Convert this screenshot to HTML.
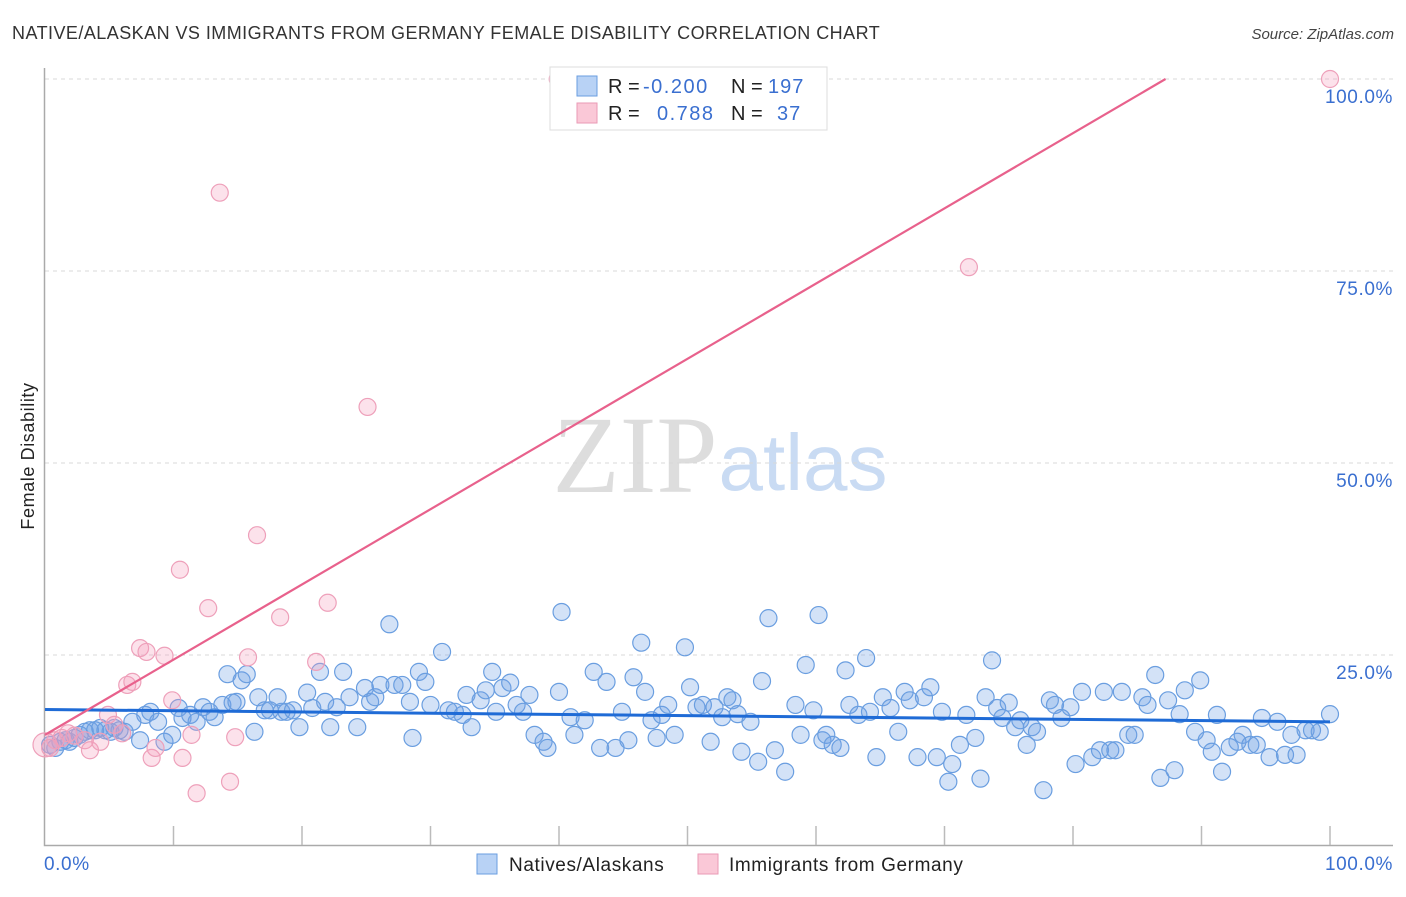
<!DOCTYPE html>
<html><head><meta charset="utf-8"><style>
body{margin:0;background:#fff;font-family:"Liberation Sans",sans-serif}
#c{position:relative;width:1406px;height:892px}
</style></head><body>
<div id="c">
<svg id="s" width="1406" height="892" xmlns="http://www.w3.org/2000/svg">
<text x="12" y="39" font-size="18" letter-spacing="0.45" fill="#333">NATIVE/ALASKAN VS IMMIGRANTS FROM GERMANY FEMALE DISABILITY CORRELATION CHART</text>
<text x="1394" y="39" font-size="15" fill="#444" font-style="italic" text-anchor="end">Source: ZipAtlas.com</text>
<text x="34" y="456" font-size="18" letter-spacing="0.6" fill="#222" text-anchor="middle" transform="rotate(-90 34 456)">Female Disability</text>
<text x="635" y="492" font-size="110" fill="#ddd" font-family="Liberation Serif,serif" text-anchor="middle">ZIP</text>
<text x="803" y="490" font-size="80" fill="#c9dbf3" text-anchor="middle">atlas</text>
<g id="grid"></g><g id="axes"></g><g id="pts"></g><g id="lines"></g>
<g>
<rect x="550" y="67" width="277" height="63" fill="#fff" stroke="#ddd"/>
<rect x="577" y="76" width="20" height="20" fill="#b8d2f5" stroke="#6a9ee0"/>
<rect x="577" y="103" width="20" height="20" fill="#fac8d7" stroke="#ea9ab5"/>
<text x="608" y="93" font-size="20" fill="#222">R = <tspan x="643" fill="#3a6fd0" letter-spacing="1.5">-0.200</tspan><tspan x="731">N = </tspan><tspan x="768" fill="#3a6fd0" letter-spacing="1">197</tspan></text>
<text x="608" y="120" font-size="20" fill="#222">R = <tspan x="657" fill="#3a6fd0" letter-spacing="1.5">0.788</tspan><tspan x="731">N = </tspan><tspan x="777" fill="#3a6fd0" letter-spacing="1">37</tspan></text>
</g>
<g>
<rect x="477" y="854" width="20" height="20" fill="#b8d2f5" stroke="#6a9ee0"/>
<text x="509" y="871" font-size="19" letter-spacing="0.6" fill="#222">Natives/Alaskans</text>
<rect x="698" y="854" width="20" height="20" fill="#fac8d7" stroke="#ea9ab5"/>
<text x="729" y="871" font-size="19" letter-spacing="0.6" fill="#222">Immigrants from Germany</text>
</g>
</svg></div>
<script>
const yTicks=[100,75,50,25];
const yTickLabels=["100.0%","75.0%","50.0%","25.0%"];
const xEndLabels=["0.0%","100.0%"];
const blueX=[0.4,0.8,1.2,1.6,1.9,2.3,2.7,3.1,3.5,3.9,4.3,4.7,5.1,5.4,5.8,6.2,6.8,7.4,7.8,8.2,8.8,9.3,9.9,10.4,10.7,11.3,11.8,12.3,12.8,13.2,13.8,14.2,14.6,14.9,15.3,15.7,16.3,16.6,17.1,17.5,18.1,18.4,18.8,19.3,19.8,20.4,20.8,21.4,21.8,22.2,22.7,23.2,23.7,24.3,24.9,25.3,25.7,26.1,26.8,27.2,27.8,28.4,28.6,29.1,29.6,30.0,30.9,31.4,31.9,32.5,32.8,33.2,33.9,34.3,34.8,35.1,35.6,36.2,36.7,37.2,37.7,38.1,38.8,39.1,40.0,40.2,40.9,41.2,42.0,42.7,43.2,43.7,44.4,44.9,45.4,45.8,46.4,46.7,47.2,47.6,48.0,48.5,49.0,49.8,50.2,50.7,51.2,51.8,52.1,52.7,53.1,53.5,53.9,54.2,54.9,55.5,55.8,56.3,56.8,57.6,58.4,58.8,59.2,59.8,60.2,60.5,60.8,61.3,61.9,62.3,62.6,63.3,63.9,64.2,64.7,65.2,65.8,66.4,66.9,67.3,67.9,68.4,68.9,69.4,69.8,70.3,70.6,71.2,71.7,72.4,72.8,73.2,73.7,74.1,74.5,75.0,75.5,75.9,76.4,76.8,77.2,77.7,78.2,78.6,79.1,79.8,80.2,80.7,81.5,82.1,82.4,82.9,83.3,83.8,84.3,84.8,85.4,85.8,86.4,86.8,87.4,87.9,88.3,88.7,89.5,89.9,90.4,90.8,91.2,91.6,92.2,92.8,93.2,93.8,94.3,94.7,95.3,95.9,96.5,97.0,97.4,98.1,98.6,99.2,100.0];
const blueY=[13.3,12.9,13.7,13.9,13.7,14.2,14.6,15.0,15.2,15.2,15.5,15.2,15.0,15.5,15.2,15.0,16.3,13.9,17.2,17.6,16.3,13.7,14.6,18.1,16.8,17.2,16.3,18.2,17.6,16.9,18.5,22.5,18.8,18.9,21.7,22.5,15.0,19.5,17.8,17.8,19.5,17.6,17.6,17.8,15.6,20.1,18.1,22.8,18.9,15.6,18.2,22.8,19.5,15.6,20.7,18.9,19.5,21.1,29.0,21.1,21.1,18.9,14.2,22.8,21.5,18.5,25.4,17.8,17.6,17.2,19.8,15.6,19.1,20.4,22.8,17.6,20.7,21.4,18.5,17.6,19.8,14.6,13.7,12.9,20.2,30.6,16.9,14.6,16.5,22.8,12.9,21.5,12.9,17.6,13.9,22.1,26.6,20.2,16.5,14.2,17.2,18.5,14.6,26.0,20.8,18.2,18.5,13.7,18.2,16.9,19.5,19.1,17.3,12.4,16.3,11.1,21.6,29.8,12.6,9.8,18.5,14.6,23.7,17.8,30.2,13.9,14.6,13.3,12.9,23.0,18.5,17.2,24.6,17.6,11.7,19.5,18.1,15.0,20.2,19.1,11.7,19.5,20.8,11.7,17.6,8.5,10.8,13.3,17.2,14.2,8.9,19.5,24.3,18.1,16.8,18.8,15.6,16.5,13.3,15.6,15.0,7.4,19.1,18.5,16.8,18.2,10.8,20.2,11.7,12.6,20.2,12.6,12.6,20.2,14.6,14.6,19.5,18.5,22.4,9.0,19.1,10.0,17.3,20.4,15.0,21.7,13.9,12.4,17.2,9.8,13.0,13.7,14.6,13.3,13.3,16.8,11.7,16.3,12.0,14.6,12.0,15.2,15.2,15.0,17.3];
const pinkX=[0.0,0.4,0.8,1.3,1.8,2.3,3.1,3.5,4.3,4.9,5.4,6.0,6.4,6.8,7.4,7.9,8.3,8.6,9.3,9.9,10.5,10.7,11.4,11.8,12.7,13.6,14.4,14.8,15.8,16.5,18.3,21.1,22.0,25.1,39.9,71.9,100];
const pinkY=[13.3,12.9,13.9,14.2,14.8,14.5,13.9,12.6,13.7,17.2,15.9,14.8,21.1,21.5,25.9,25.4,11.6,12.9,24.9,19.1,36.1,11.6,14.6,7.0,31.1,85.2,8.5,14.3,24.7,40.6,29.9,24.1,31.8,57.3,100,75.5,100];
const blueTrend=[17.9,16.3];
const pinkTrend=[14.6,100];
const pinkTrendEndX=87.2;

const X0=45,X1=1330,Y0=847,Y1=79;
const sx=v=>X0+(X1-X0)*v/100, sy=v=>Y0-(Y0-Y1)*v/100;
const NS="http://www.w3.org/2000/svg";
function mk(tag,attrs,parent){const e=document.createElementNS(NS,tag);for(const k in attrs)e.setAttribute(k,attrs[k]);parent.appendChild(e);return e;}
const grid=document.getElementById('grid'),axes=document.getElementById('axes'),pts=document.getElementById('pts'),lines=document.getElementById('lines');
yTicks.forEach((t,i)=>{
  const l=mk('line',{x1:45,x2:1393,y1:sy(t),y2:sy(t),stroke:'#d8d8d8','stroke-dasharray':'4,4'},grid);
  
  
  const tx=mk('text',{x:1393,y:sy(t)+24,'font-size':19,'letter-spacing':0.6,fill:'#3a6fd0','text-anchor':'end'},grid);
  tx.textContent=yTickLabels[i];
  
  
});
const ax=mk('path',{d:'M44.5 68 V845.5 H1393',fill:'none',stroke:'#aaa','stroke-width':1.5},axes);


for(let i=1;i<=10;i++){
  const tk=mk('line',{x1:sx(i*10),x2:sx(i*10),y1:826,y2:845,stroke:'#bbb','stroke-width':1.5},axes);
  
  
}
[[44,'start',0],[1393,'end',1]].forEach(([x,a,i])=>{
  const t=mk('text',{x:x,y:870,'font-size':19,'letter-spacing':0.6,fill:'#3a6fd0','text-anchor':a},axes);
  t.textContent=xEndLabels[i];
  
  
});
blueX.forEach((v,i)=>{
  const c=mk('circle',{cx:sx(v),cy:sy(blueY[i]),r:8.5,fill:'rgba(110,160,230,0.3)',stroke:'#6a9ee0','stroke-width':1.2},pts);
  
  
});
pinkX.forEach((v,i)=>{
  const c=mk('circle',{cx:sx(v),cy:sy(pinkY[i]),r:i==0?12:8.5,fill:'rgba(245,160,190,0.3)',stroke:'#eea0ba','stroke-width':1.2},pts);
  
  
});
const bl=mk('line',{x1:sx(0),y1:sy(blueTrend[0]),x2:sx(100),y2:sy(blueTrend[1]),stroke:'#1f6bd6','stroke-width':3},lines);


const pl=mk('line',{x1:sx(0),y1:sy(pinkTrend[0]),x2:sx(pinkTrendEndX),y2:sy(pinkTrend[1]),stroke:'#e8618c','stroke-width':2.2},lines);


</script>
</body></html>
